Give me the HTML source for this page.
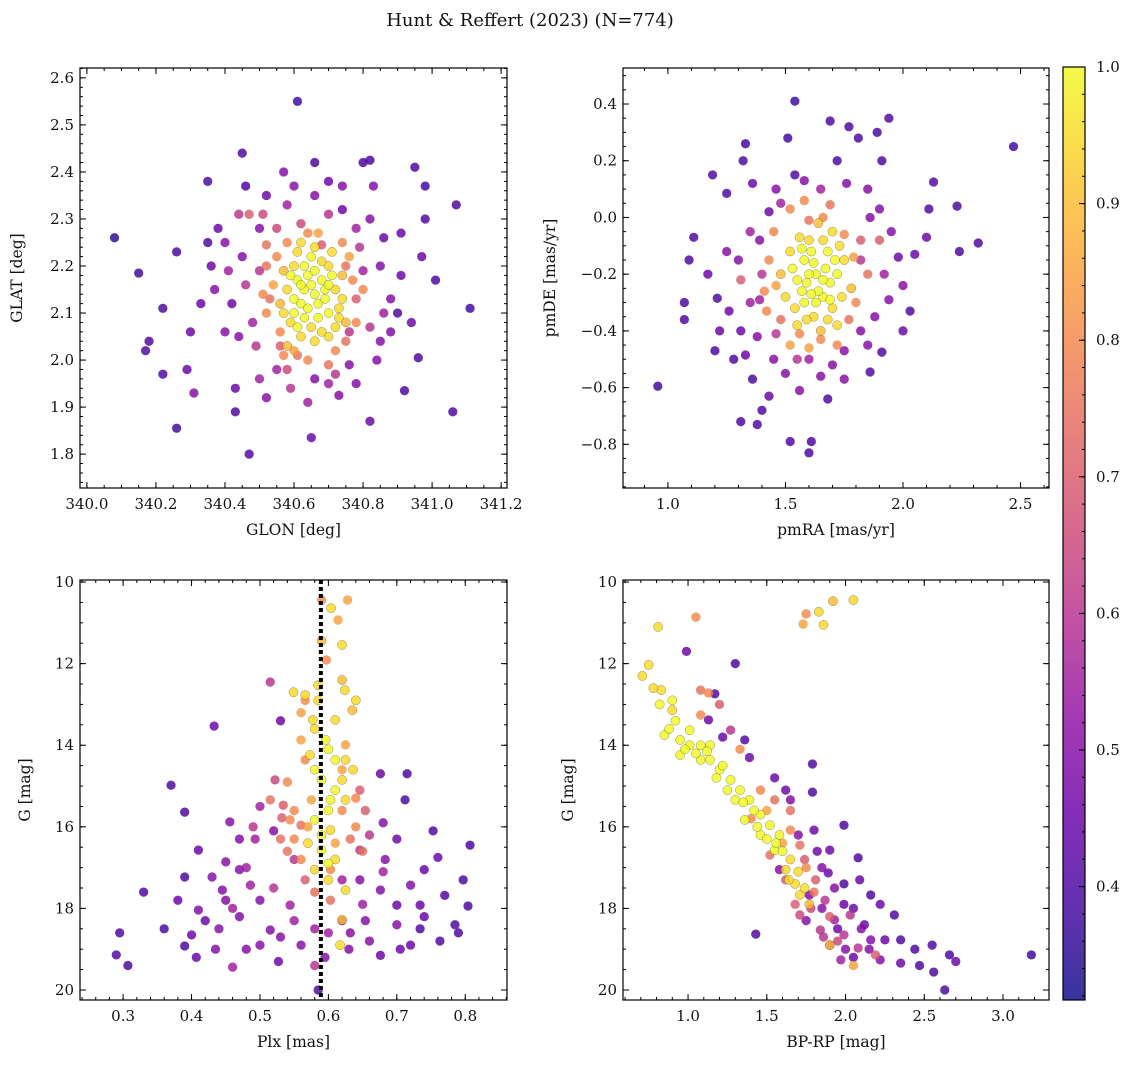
<!DOCTYPE html>
<html><head><meta charset="utf-8"><style>
body{margin:0;background:#fff;}
svg text{font-family:"DejaVu Serif","Liberation Serif",serif;fill:#111;}
</style></head><body>
<svg id="fig" width="1136" height="1067" xmlns="http://www.w3.org/2000/svg">
<text x="530" y="26" font-size="18" text-anchor="middle">Hunt &amp; Reffert (2023) (N=774)</text>
</svg>
<script>
// ---- data ----
const skyStars = [
[340.08,2.26,.35],[340.15,2.185,.38],[340.18,2.04,.4],[340.17,2.02,.4],[340.22,2.11,.4],[340.22,1.97,.4],[340.26,1.855,.38],[340.26,2.23,.4],[340.29,1.98,.45],[340.31,1.93,.5],[340.35,2.38,.4],[340.35,2.25,.4],[340.38,2.28,.45],[340.43,1.89,.4],[340.43,1.94,.45],[340.45,2.44,.4],[340.47,1.80,.4],[340.46,2.37,.4],[340.61,2.55,.38],[340.66,2.42,.4],[340.65,1.835,.45],[340.82,2.425,.4],[340.80,2.42,.4],[340.95,2.41,.4],[340.98,2.37,.38],[341.07,2.33,.4],[341.11,2.11,.38],[341.06,1.89,.4],[340.92,1.935,.4],[340.96,2.005,.4],[340.82,1.87,.45],[340.98,2.3,.4],[340.91,2.27,.45],[340.91,2.18,.45],[340.85,2.2,.5],[340.88,2.13,.5],[340.80,2.19,.55],[340.83,2.37,.5],[340.57,2.4,.5],[340.52,2.35,.45],[340.74,2.37,.5],[340.40,2.06,.5],[340.33,2.12,.45],[340.37,2.15,.5],[340.30,2.06,.45],[340.49,2.03,.6],[340.50,1.96,.55],[340.85,2.04,.5],[340.76,2.06,.6],[340.88,2.06,.5],[340.94,2.08,.45],[341.01,2.17,.4],[340.97,2.22,.45],[340.47,2.31,.7],[340.51,2.31,.65],[340.44,2.31,.6],[340.41,2.19,.55],[340.73,1.925,.5],[340.72,1.97,.6],[340.59,1.94,.6],[340.61,2.01,.75],[340.56,2.03,.7],[340.53,2.13,.75],[340.78,2.28,.55],[340.70,2.31,.6],[340.62,2.29,.65],[340.68,2.245,.7],[340.52,2.245,.75],[340.78,2.13,.7],[340.75,2.2,.75],[340.45,2.22,.5],[340.48,2.08,.55],[340.86,2.26,.45],[340.76,1.99,.5],[340.55,1.98,.55],[340.66,1.96,.5],[340.42,2.12,.45],[340.9,2.1,.4],
[340.50,2.28,.5],[340.58,2.33,.55],[340.66,2.35,.5],[340.74,2.32,.45],[340.82,2.30,.5],[340.86,2.10,.55],[340.84,2.0,.5],[340.46,2.16,.6],[340.44,2.05,.5],[340.52,1.92,.5],[340.64,1.91,.55],[340.78,1.95,.5],[340.36,2.2,.45],[340.40,2.25,.5],[340.70,2.38,.45],[340.60,2.37,.5],[340.55,2.28,.65],[340.79,2.24,.6],[340.82,2.07,.6],[340.50,2.19,.6],[340.58,1.98,.65],[340.70,1.95,.55],
[340.55,2.22,.8],[340.76,2.22,.85],[340.52,2.1,.8],[340.78,2.08,.8],[340.60,2.02,.85],[340.72,2.02,.8],[340.67,2.27,.85],[340.54,2.16,.85],[340.80,2.15,.8],[340.58,2.25,.8],[340.74,2.25,.8],[340.56,2.06,.8],[340.70,1.99,.75],[340.64,2.0,.8],[340.52,2.2,.75],[340.77,2.17,.8],[340.57,2.01,.8],[340.75,2.04,.75],[340.64,2.27,.8],[340.51,2.14,.8],
[340.60,2.20,.95],[340.65,2.22,1],[340.70,2.20,.95],[340.72,2.15,.95],[340.70,2.10,1],[340.65,2.07,.95],[340.60,2.10,1],[340.58,2.15,.95],[340.63,2.15,1],[340.67,2.12,1],[340.68,2.17,1],[340.62,2.12,1],[340.64,2.18,1],[340.66,2.14,1],[340.61,2.17,1],[340.69,2.13,1],[340.62,2.05,.95],[340.70,2.05,.95],[340.56,2.12,.9],[340.74,2.18,.9],[340.57,2.19,.9],[340.66,2.24,.95],[340.73,2.11,.95],[340.63,2.09,1],[340.59,2.08,.95],[340.61,2.23,.95],[340.68,2.21,.95],[340.71,2.18,1],[340.74,2.13,.95],[340.75,2.08,.9],[340.66,2.04,.95],[340.58,2.03,.9],[340.60,2.13,1],[340.64,2.11,1],[340.67,2.09,1],[340.72,2.07,.95],[340.65,2.16,1],[340.63,2.20,1],[340.59,2.18,1],[340.69,2.15,1],[340.62,2.25,.95],[340.71,2.23,.95],[340.57,2.10,.95],[340.61,2.07,1],[340.68,2.06,.95],[340.73,2.09,.95],[340.66,2.19,1],[340.62,2.16,1],[340.70,2.16,1]
];
const pmStars = [
[0.957,-0.595,.38],[1.07,-0.30,.4],[1.07,-0.36,.4],[1.11,-0.07,.4],[1.09,-0.15,.4],[1.19,0.15,.4],[1.25,0.085,.4],[1.21,-0.285,.4],[1.20,-0.47,.4],[1.31,-0.72,.4],[1.33,0.26,.38],[1.32,0.2,.4],[1.38,-0.73,.4],[1.40,-0.68,.4],[1.51,0.28,.38],[1.54,0.15,.4],[1.52,-0.79,.4],[1.60,-0.83,.4],[1.61,-0.79,.4],[1.54,0.41,.38],[1.69,0.34,.4],[1.77,0.32,.4],[1.72,0.20,.4],[1.81,0.28,.4],[1.89,0.30,.4],[1.94,0.35,.4],[1.91,0.2,.4],[2.13,0.125,.4],[2.23,0.04,.4],[2.24,-0.12,.4],[2.32,-0.09,.4],[2.47,0.25,.38],[2.11,0.03,.4],[2.10,-0.07,.45],[1.98,-0.14,.45],[2.00,-0.24,.5],[1.91,-0.475,.4],[1.86,-0.545,.4],[1.68,-0.64,.4],[1.65,-0.56,.5],[1.43,-0.63,.45],[1.36,-0.57,.4],[1.33,-0.485,.45],[1.31,-0.4,.45],[1.26,-0.33,.45],[1.39,-0.08,.5],[1.43,0.02,.45],[1.46,0.1,.5],[1.65,0.1,.55],[1.90,0.03,.5],[1.82,-0.15,.6],[1.94,-0.29,.5],[1.82,-0.40,.5],[1.39,-0.29,.55],[1.46,-0.41,.6],[1.75,-0.57,.5],[1.56,-0.61,.5],[2.05,-0.13,.45],[2.03,-0.33,.4],[1.17,-0.2,.45],[1.25,-0.12,.5],[1.35,-0.05,.55],[1.85,0.1,.5],[1.95,-0.05,.5],[1.45,-0.5,.5],[1.6,-0.5,.55],[1.75,-0.47,.5],[1.28,-0.5,.4],[1.36,0.12,.45],
[1.30,-0.15,.5],[1.35,-0.3,.55],[1.38,-0.42,.5],[1.50,-0.55,.5],[1.70,-0.52,.5],[1.88,-0.35,.5],[1.92,-0.2,.55],[1.86,0.0,.5],[1.76,0.12,.5],[1.58,0.13,.5],[1.48,0.05,.55],[1.40,-0.2,.6],[1.85,-0.45,.5],[1.55,-0.5,.6],[1.22,-0.4,.45],[2.0,-0.4,.45],
[1.52,0.03,.8],[1.60,-0.01,.75],[1.75,-0.06,.8],[1.82,-0.08,.7],[1.43,-0.15,.8],[1.41,-0.26,.8],[1.48,-0.36,.75],[1.65,-0.43,.8],[1.77,-0.36,.75],[1.52,-0.45,.85],[1.31,-0.22,.7],[1.90,-0.08,.7],[1.69,0.045,.75],[1.56,-0.41,.8],[1.45,-0.05,.8],[1.80,-0.3,.8],[1.85,-0.2,.75],[1.42,-0.33,.8],[1.58,0.06,.8],[1.72,-0.45,.8],[1.46,-0.24,.85],[1.79,-0.14,.85],[1.60,-0.46,.85],[1.66,0.0,.8],
[1.63,-0.20,1],[1.58,-0.15,1],[1.68,-0.12,1],[1.72,-0.2,1],[1.66,-0.28,1],[1.58,-0.30,1],[1.55,-0.22,1],[1.60,-0.08,.95],[1.70,-0.05,.95],[1.75,-0.15,.95],[1.50,-0.28,.95],[1.62,-0.35,.95],[1.70,-0.32,.95],[1.55,-0.38,.95],[1.65,-0.40,.9],[1.78,-0.25,.9],[1.52,-0.12,.95],[1.64,-0.26,1],[1.60,-0.20,1],[1.67,-0.18,1],[1.57,-0.26,1],[1.73,-0.10,.95],[1.61,-0.12,1],[1.69,-0.23,1],[1.54,-0.32,.95],[1.66,-0.08,.95],[1.48,-0.2,.9],[1.63,-0.3,1],[1.59,-0.36,.95],[1.68,-0.36,.95],[1.74,-0.28,.95],[1.56,-0.07,.95],[1.64,-0.02,.9],[1.71,-0.15,1],[1.53,-0.18,1],[1.62,-0.16,1],[1.57,-0.11,1],[1.66,-0.22,1],[1.61,-0.27,1],[1.69,-0.29,1],[1.59,-0.23,1],[1.72,-0.38,.95]
];
const plxStars = [
[0.29,19.14,.4],[0.295,18.6,.4],[0.307,19.4,.4],[0.33,17.6,.4],[0.37,14.98,.4],[0.39,15.64,.4],[0.39,17.23,.4],[0.39,18.92,.4],[0.407,19.2,.45],[0.433,13.53,.45],[0.41,18.04,.5],[0.41,16.57,.45],[0.43,17.23,.5],[0.445,17.55,.5],[0.46,19.44,.55],[0.47,18.2,.5],[0.48,19.0,.5],[0.515,12.45,.6],[0.53,13.4,.45],[0.534,15.47,.7],[0.52,16.1,.5],[0.47,17.05,.5],[0.50,17.8,.5],[0.527,19.3,.45],[0.56,18.9,.5],[0.58,19.4,.6],[0.585,20.0,.4],[0.595,19.2,.5],[0.62,18.3,.55],[0.654,18.3,.5],[0.676,17.55,.5],[0.70,16.3,.45],[0.676,14.7,.45],[0.715,14.7,.4],[0.712,15.34,.4],[0.74,17.05,.45],[0.753,16.1,.4],[0.734,18.5,.4],[0.763,18.8,.4],[0.785,18.4,.4],[0.76,16.75,.45],[0.797,17.3,.4],[0.807,16.45,.4],[0.804,17.94,.4],[0.79,18.6,.4],[0.705,19.0,.45],[0.676,19.15,.45],[0.632,18.6,.5],[0.646,17.3,.5],[0.493,16.3,.55],[0.456,15.88,.5],[0.45,16.86,.5],[0.486,17.43,.55],[0.515,18.53,.5],[0.544,17.92,.55],[0.55,16.8,.6],[0.646,16.57,.6],[0.62,17.3,.55],[0.683,16.8,.5],[0.72,17.43,.5],[0.734,17.92,.45],[0.40,18.65,.45],[0.435,19.0,.5],[0.45,17.8,.5],[0.77,17.68,.4],[0.70,17.92,.45],[0.42,18.3,.45],[0.5,18.9,.5],[0.66,18.8,.5],[0.72,18.9,.45],[0.6,18.6,.55],[0.47,16.3,.5],[0.68,15.9,.5],[0.5,15.5,.55],
[0.48,17.0,.55],[0.52,17.5,.6],[0.55,18.3,.55],[0.53,18.7,.5],[0.65,17.9,.55],[0.68,17.1,.55],[0.70,18.4,.5],[0.74,18.2,.45],[0.44,18.5,.5],[0.46,18.0,.55],[0.66,16.2,.6],[0.49,16.0,.6],[0.58,18.5,.55],[0.63,19.0,.5],[0.36,18.5,.4],[0.38,17.8,.45],
[0.53,16.3,.75],[0.544,15.83,.8],[0.56,16.8,.8],[0.575,15.34,.85],[0.62,15.6,.8],[0.632,16.3,.75],[0.603,17.05,.8],[0.566,14.36,.8],[0.62,14.6,.85],[0.56,13.87,.85],[0.625,13.99,.85],[0.566,12.9,.8],[0.56,13.2,.85],[0.532,15.78,.7],[0.56,15.96,.75],[0.515,15.34,.75],[0.522,14.85,.65],[0.654,15.6,.7],[0.646,15.1,.7],[0.603,17.8,.75],[0.566,17.3,.7],[0.55,16.3,.8],[0.64,16.0,.8],[0.57,16.0,.85],[0.61,16.4,.85],[0.54,14.9,.8],[0.55,15.6,.8],[0.64,15.3,.8],[0.58,17.6,.75],[0.54,16.6,.75],[0.65,16.6,.75],
[0.628,10.44,.85],[0.604,10.64,.95],[0.59,10.44,.8],[0.614,10.93,.85],[0.62,11.54,.95],[0.597,11.91,.8],[0.62,12.4,.9],[0.624,12.65,.95],[0.64,12.9,.95],[0.635,13.14,.9],[0.549,12.7,.95],[0.566,12.77,.95],[0.585,12.9,.95],[0.577,13.38,.95],[0.61,13.38,.95],[0.596,13.87,1],[0.61,14.36,1],[0.62,14.85,.95],[0.625,15.34,.95],[0.603,15.34,1],[0.59,14.85,1],[0.58,15.83,1],[0.603,16.08,.95],[0.59,16.57,1],[0.58,17.05,.95],[0.61,16.8,.95],[0.625,17.55,.95],[0.62,18.28,.9],[0.617,18.9,.95],[0.573,14.24,.95],[0.636,14.6,.95],[0.625,14.36,.95],[0.585,12.53,.95],[0.59,11.44,.9],[0.60,14.1,1],[0.58,14.6,1],[0.6,15.6,1],[0.57,16.4,.95],[0.6,17.3,.95],[0.61,15.1,1],[0.59,16.2,1],[0.6,16.9,1],[0.58,13.6,.95]
];
const cmdStars = [
[0.71,12.3,.95],[0.81,11.1,.95],[0.75,12.03,.95],[0.83,12.65,.95],[0.9,12.9,1],[0.82,13.0,1],[0.92,13.4,1],[0.95,13.87,1],[1.01,14.0,1],[1.08,14.0,1],[1.14,14.0,1],[1.08,14.36,1],[1.2,14.6,1],[1.27,14.85,1],[1.33,15.1,1],[1.39,15.34,1],[1.46,15.7,1],[1.52,15.96,1],[1.58,16.2,1],[1.55,16.57,1],[1.65,16.8,.95],[1.62,17.05,.95],[1.68,17.4,.95],[1.71,17.67,.95],[1.77,17.9,.9],[0.95,14.24,1],[0.85,13.75,1],[1.01,13.63,1],[1.14,14.36,1],[1.46,16.2,1],[1.36,15.83,1],[1.30,15.34,1],[0.9,13.14,.95],[0.78,12.6,.95],[0.88,13.6,1],[1.05,14.2,1],[1.18,14.8,1],[1.25,15.1,1],[1.42,15.6,1],[1.5,16.3,1],[1.6,16.6,1],[1.7,17.1,.95],[1.9,18.9,.9],[2.05,19.4,.85],[0.98,14.1,1],[1.12,14.15,1],[1.22,14.5,1],[1.35,15.4,1],[1.44,16.0,1],[1.56,16.4,1],[1.64,17.3,.95],[1.74,17.5,.95],
[1.73,11.03,.85],[1.75,10.78,.8],[1.83,10.73,.95],[1.86,11.05,.95],[1.92,10.47,.9],[2.05,10.44,.95],[1.05,10.86,.8],
[1.08,12.65,.75],[1.13,12.72,.8],[1.2,13.0,.7],[1.08,13.26,.8],[1.27,13.63,.6],[1.33,14.1,.8],[1.46,15.1,.8],[1.55,15.34,.75],[1.65,16.08,.8],[1.71,16.45,.75],[1.74,16.8,.7],[1.81,17.3,.7],[1.87,17.8,.6],[1.93,18.28,.55],[1.99,18.65,.6],[2.08,18.97,.6],[2.19,19.14,.7],[1.65,15.6,.75],[1.52,16.69,.75],[1.62,17.3,.7],[1.71,18.16,.65],[1.84,18.53,.6],[1.90,18.9,.55],[1.97,19.26,.55],[2.03,18.16,.6],[1.4,15.8,.8],[1.5,15.6,.85],[1.6,16.4,.85],[1.75,17.0,.8],[1.8,17.6,.75],[1.9,18.2,.7],[1.78,18.0,.65],[1.86,18.7,.6],[1.95,18.8,.65],[1.68,17.9,.7],
[0.99,11.7,.45],[1.30,12.0,.4],[1.17,12.74,.4],[1.13,13.38,.45],[1.22,13.8,.45],[1.36,13.87,.4],[1.39,14.3,.45],[1.62,15.1,.45],[1.79,15.15,.4],[1.80,16.08,.45],[1.99,15.96,.4],[2.08,16.76,.4],[1.89,17.13,.45],[1.99,17.4,.4],[2.16,17.67,.4],[2.22,17.9,.45],[2.31,18.16,.4],[2.35,18.77,.4],[2.44,19.0,.4],[2.47,19.4,.4],[2.56,19.56,.4],[2.55,18.9,.4],[2.66,19.14,.4],[2.70,19.3,.45],[2.63,20.0,.4],[3.18,19.14,.38],[1.43,18.63,.4],[1.79,14.46,.4],[1.65,15.34,.5],[1.90,16.57,.45],[2.09,17.3,.45],[2.12,18.4,.45],[2.25,18.77,.45],[2.22,19.26,.5],[2.35,19.34,.45],[2.16,18.77,.5],[1.77,17.67,.5],[1.99,17.9,.45],[1.58,17.05,.5],[1.95,18.5,.45],[2.0,19.0,.5],[2.1,18.5,.5],[1.85,18.0,.5],[2.05,19.2,.45],[1.55,14.8,.45],[1.70,16.2,.5],[1.85,17.0,.5],[1.93,17.5,.5],[2.05,18.0,.45],[1.75,18.3,.5],[2.15,19.0,.5],[1.82,16.6,.45]
];
const cbarTicks = [0.4,0.5,0.6,0.7,0.8,0.9,1.0];
</script>
<script>
const NS="http://www.w3.org/2000/svg";
const svg=document.getElementById('fig');
function mk(tag,attrs,parent){const e=document.createElementNS(NS,tag);for(const k in attrs)e.setAttribute(k,attrs[k]);(parent||svg).appendChild(e);return e;}
const stops=[[13,8,135],[65,4,157],[106,0,168],[143,13,164],[177,42,144],[204,71,120],[225,100,98],[242,132,75],[252,166,54],[252,206,37],[240,249,33]];
function plasma(t){t=Math.max(0,Math.min(1,t))*10;const i=Math.min(9,Math.floor(t)),f=t-i;const a=stops[i],b=stops[i+1];return `rgb(${a.map((v,k)=>Math.round(v+(b[k]-v)*f)).join(',')})`;}
const VMIN=0.317,VMAX=1.0;
function fmt(v,d){return (v<0?'\u2212':'')+Math.abs(v).toFixed(d);}
function panel(cfg){
  const {L,T,W,H,xd,yd,xt,yt,xm,ym,xdec,ydec,xlab,ylab,stars,name}=cfg;
  const g=mk('g',{});
  
  
  const sx=v=>L+(v-xd[0])/(xd[1]-xd[0])*W;
  const sy=v=>T+(v-yd[0])/(yd[1]-yd[0])*H;
  const clip=mk('clipPath',{id:'c'+name},g);mk('rect',{x:L,y:T,width:W,height:H},clip);
  const pg=mk('g',{'clip-path':`url(#c${name})`},g);
  
  
  const sorted=stars.slice().sort((a,b)=>a[2]-b[2]);
  sorted.forEach(s=>{
    const c=mk('circle',{cx:sx(s[0]),cy:sy(s[1]),r:4.6,fill:plasma((s[2]-VMIN)/(VMAX-VMIN)),'fill-opacity':0.82,stroke:s[2]>0.85?'rgba(60,60,40,0.55)':'rgba(80,80,80,0.15)','stroke-width':0.5},pg);
    
    
  });
  if(cfg.vline!==undefined){
    const l=mk('line',{x1:sx(cfg.vline),x2:sx(cfg.vline),y1:T,y2:T+H,stroke:'#000','stroke-width':4,'stroke-dasharray':'4,3'},pg);
    
    
  }
  mk('rect',{x:L,y:T,width:W,height:H,fill:'none',stroke:'#000','stroke-width':1.2},g);
  for(let v=Math.ceil(Math.min(...xd)/xm)*xm;v<=Math.max(...xd)+1e-9;v+=xm){const x=sx(v);mk('line',{x1:x,x2:x,y1:T+H,y2:T+H-3,stroke:'#000'},g);mk('line',{x1:x,x2:x,y1:T,y2:T+3,stroke:'#000'},g);}
  for(let v=Math.ceil(Math.min(...yd)/ym)*ym;v<=Math.max(...yd)+1e-9;v+=ym){const y=sy(v);mk('line',{x1:L,x2:L+3,y1:y,y2:y,stroke:'#000'},g);mk('line',{x1:L+W,x2:L+W-3,y1:y,y2:y,stroke:'#000'},g);}
  xt.forEach(v=>{const x=sx(v);mk('line',{x1:x,x2:x,y1:T+H,y2:T+H-6,stroke:'#000'},g);mk('line',{x1:x,x2:x,y1:T,y2:T+6,stroke:'#000'},g);
    const t=mk('text',{x:x,y:T+H+21,'font-size':15,'text-anchor':'middle'},g);t.textContent=fmt(v,xdec);
    });
  yt.forEach(v=>{const y=sy(v);mk('line',{x1:L,x2:L+6,y1:y,y2:y,stroke:'#000'},g);mk('line',{x1:L+W,x2:L+W-6,y1:y,y2:y,stroke:'#000'},g);
    const t=mk('text',{x:L-6,y:y+5,'font-size':15,'text-anchor':'end'},g);t.textContent=fmt(v,ydec);
    });
  const xl=mk('text',{x:L+W/2,y:T+H+47,'font-size':15.5,'text-anchor':'middle'},g);xl.textContent=xlab;
  
  const yx=L-(cfg.ylx||58),yy=T+H/2;
  const yl=mk('text',{x:yx,y:yy,'font-size':15.5,'text-anchor':'middle',transform:`rotate(-90 ${yx} ${yy})`},g);yl.textContent=ylab;
  
}
panel({name:'sky-panel',L:80,T:68,W:427,H:420,xd:[339.98,341.217],yd:[2.621,1.728],xt:[340.0,340.2,340.4,340.6,340.8,341.0,341.2],yt:[1.8,1.9,2.0,2.1,2.2,2.3,2.4,2.5,2.6],xm:0.05,ym:0.02,xdec:1,ydec:1,xlab:'GLON [deg]',ylab:'GLAT [deg]',stars:skyStars,ylx:58});
panel({name:'pm-panel',L:623,T:68,W:426,H:420,xd:[0.809,2.621],yd:[0.527,-0.954],xt:[1.0,1.5,2.0,2.5],yt:[-0.8,-0.6,-0.4,-0.2,0.0,0.2,0.4],xm:0.1,ym:0.05,xdec:1,ydec:1,xlab:'pmRA [mas/yr]',ylab:'pmDE [mas/yr]',stars:pmStars,ylx:68});
panel({name:'plx-panel',L:80,T:580,W:427,H:420,xd:[0.237,0.861],yd:[9.95,20.245],xt:[0.3,0.4,0.5,0.6,0.7,0.8],yt:[10,12,14,16,18,20],xm:0.02,ym:0.5,xdec:1,ydec:0,xlab:'Plx [mas]',ylab:'G [mag]',stars:plxStars,vline:0.589,ylx:50});
panel({name:'cmd-panel',L:623,T:580,W:426,H:420,xd:[0.587,3.292],yd:[9.95,20.245],xt:[1.0,1.5,2.0,2.5,3.0],yt:[10,12,14,16,18,20],xm:0.1,ym:0.5,xdec:1,ydec:0,xlab:'BP-RP [mag]',ylab:'G [mag]',stars:cmdStars,ylx:50});
(function(){
  const L=1063,T=67,W=22,B=1000;
  const g=mk('g',{});
  
  
  const defs=mk('defs',{},g);
  const lg=mk('linearGradient',{id:'cbg',x1:0,y1:1,x2:0,y2:0},defs);
  for(let i=0;i<=20;i++){mk('stop',{offset:i/20,'stop-color':plasma(i/20),'stop-opacity':0.82},lg);}
  mk('rect',{x:L,y:T,width:W,height:B-T,fill:'url(#cbg)',stroke:'#000','stroke-width':1.2},g);
  const sy=v=>B-(v-VMIN)/(VMAX-VMIN)*(B-T);
  for(let v=0.32;v<=1.0001;v+=0.02){const y=sy(v);mk('line',{x1:L+W,x2:L+W-3,y1:y,y2:y,stroke:'#000'},g);}
  cbarTicks.forEach(v=>{const y=sy(v);mk('line',{x1:L+W,x2:L+W-6,y1:y,y2:y,stroke:'#000'},g);
    const t=mk('text',{x:L+W+11,y:y+5,'font-size':15},g);t.textContent=v.toFixed(1);
    });
})();
</script>
</body></html>
